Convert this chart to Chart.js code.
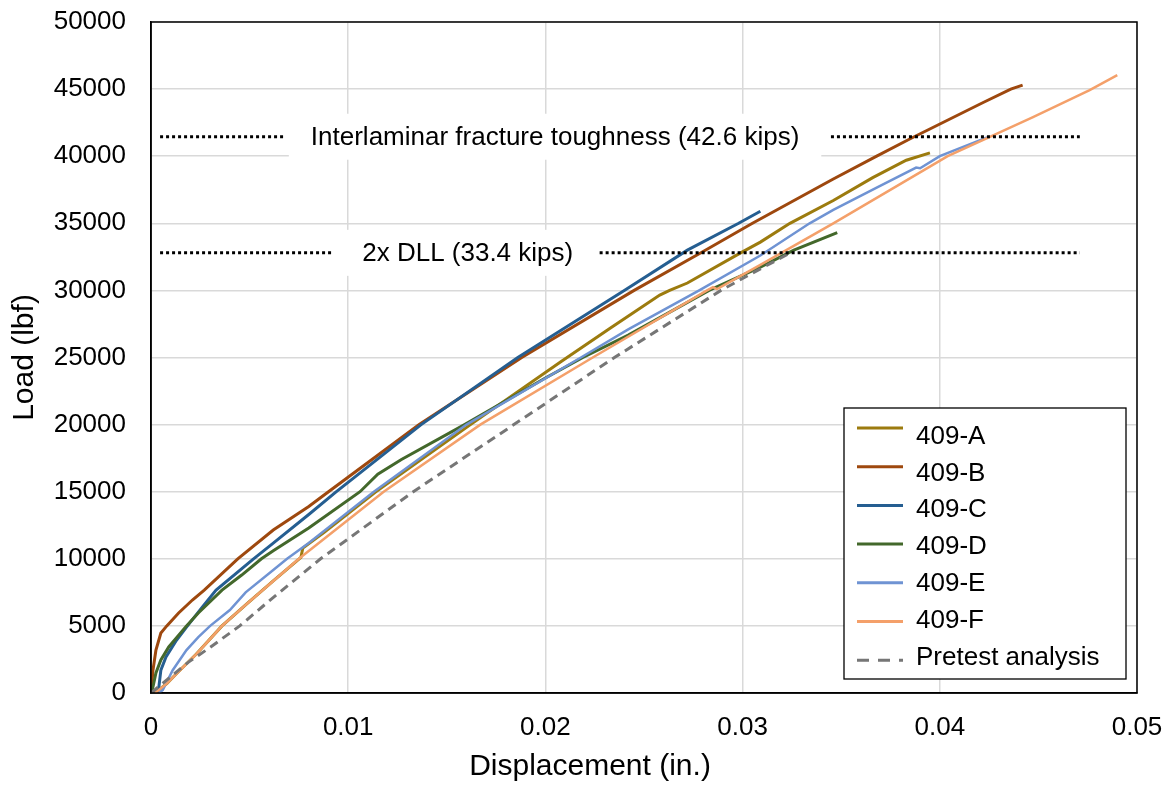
<!DOCTYPE html>
<html lang="en">
<head>
    <meta charset="UTF-8">
    <title>Load vs Displacement</title>
    <script src="https://cdn.jsdelivr.net/npm/chart.js"></script>
    <style>
        body { margin: 0; background: #fff; }
        canvas { display: block; }
    </style>
</head>
<body>
    <canvas id="loadChart" width="1168" height="785"></canvas>
    <script>
        // Test curves (displacement in., load lbf)
        const xA = [0.0002, 0.0008, 0.0014, 0.0023, 0.0036, 0.0049, 0.0062, 0.0076, 0.0077, 0.0088, 0.0114, 0.0162, 0.0208, 0.0233, 0.0258, 0.0263, 0.0272, 0.0299, 0.0309, 0.0324, 0.0346, 0.0366, 0.0383, 0.0395];
        const yA = [0, 700, 1600, 2900, 5000, 6700, 8350, 10100, 10800, 12000, 15000, 20000, 24700, 27200, 29650, 30000, 30550, 32800, 33600, 35000, 36700, 38400, 39700, 40250];

        const xB = [0, 0.0001, 0.00025, 0.0005, 0.0008, 0.0014, 0.0021, 0.0027, 0.0044, 0.0062, 0.008, 0.009, 0.0136, 0.0188, 0.0245, 0.028, 0.0305, 0.0346, 0.0368, 0.0385, 0.0422, 0.0436, 0.0442];
        const yB = [0, 1700, 3200, 4470, 5000, 5960, 6930, 7670, 10000, 12140, 13900, 15000, 20000, 25000, 30000, 32900, 35000, 38300, 40000, 41300, 44000, 45000, 45300];

        const xC = [0.0003, 0.0004, 0.0005, 0.00076, 0.0013, 0.00185, 0.0026, 0.0033, 0.0052, 0.0062, 0.008, 0.0094, 0.0137, 0.0186, 0.024, 0.0272, 0.0298, 0.0309];
        const yC = [0, 450, 1700, 2680, 3950, 5000, 6400, 7670, 10000, 11170, 13300, 15000, 20000, 25000, 30000, 33000, 35000, 35900];

        const xD = [0, 0.0001, 0.00025, 0.0005, 0.0009, 0.0018, 0.0024, 0.0036, 0.0046, 0.0056, 0.0062, 0.008, 0.0106, 0.0115, 0.0127, 0.0159, 0.02, 0.0219, 0.0242, 0.0283, 0.0309, 0.0326, 0.0348];
        const yD = [0, 450, 1490, 2460, 3430, 5000, 5960, 7670, 8790, 10000, 10600, 12300, 15000, 16300, 17400, 20000, 23470, 25000, 26670, 30000, 31740, 33000, 34300];

        const xE = [0.0004, 0.0006, 0.0011, 0.0018, 0.0024, 0.003, 0.004, 0.0048, 0.0062, 0.0069, 0.008, 0.0113, 0.016, 0.0218, 0.0242, 0.0278, 0.0309, 0.0334, 0.0346, 0.0368, 0.0388, 0.039, 0.04, 0.0424];
        const yE = [0, 220, 1700, 3200, 4170, 5000, 6180, 7500, 9160, 10000, 11170, 15000, 20000, 25000, 27100, 30000, 32600, 35000, 36000, 37650, 39150, 39100, 40000, 41400];

        const xF = [0.0002, 0.0008, 0.0014, 0.0023, 0.0036, 0.0049, 0.0062, 0.0075, 0.0118, 0.0167, 0.0224, 0.0282, 0.0285, 0.0287, 0.0309, 0.0346, 0.039, 0.0404, 0.0424, 0.0447, 0.0476, 0.049];
        const yF = [0, 700, 1600, 2900, 5000, 6700, 8350, 10000, 15000, 20000, 25000, 30000, 30250, 30100, 31900, 35000, 38800, 40000, 41350, 42900, 44920, 46040];

        const xPre = [0, 0.0019, 0.0029, 0.0045, 0.0061, 0.0086, 0.0133, 0.0184, 0.0235, 0.0289, 0.0305, 0.0323];
        const yPre = [0, 2300, 3300, 5000, 7000, 10000, 15000, 20000, 25000, 30000, 31290, 32700];

        const seriesNames = ['409-A', '409-B', '409-C', '409-D', '409-E', '409-F', 'Pretest analysis'];
        const seriesColors = ['#9c7b0e', '#9e480e', '#255e91', '#43682b', '#6f93d3', '#f4a06a', '#767676'];

        // Reference load levels drawn as dotted lines with a label in the gap
        const refLoads = [41450, 32800];
        const refLabels = ['Interlaminar fracture toughness (42.6 kips)', '2x DLL (33.4 kips)'];
        const refLabelX = [0.02049, 0.01606];
        const refLeft = [[0.00046, 0.0068], [0.00046, 0.0092]];
        const refRight = [[0.03448, 0.0471], [0.02275, 0.0471]];

        // Axis ticks
        const xTicks = [0, 0.01, 0.02, 0.03, 0.04, 0.05];
        const yTicks = [0, 5000, 10000, 15000, 20000, 25000, 30000, 35000, 40000, 45000, 50000];

        const FONT = '"Liberation Sans", Arial, sans-serif';
        const toPoints = (xs, ys) => xs.map((x, i) => ({ x: x, y: ys[i] }));

        const curves = [[xA, yA], [xB, yB], [xC, yC], [xD, yD], [xE, yE], [xF, yF], [xPre, yPre]];
        const datasets = curves.map((c, i) => ({
            label: seriesNames[i],
            data: toPoints(c[0], c[1]),
            borderColor: seriesColors[i],
            borderWidth: i >= 4 && i <= 5 ? 2.5 : 3,
            borderDash: i === 6 ? [9, 6] : [],
            showLine: true,
            pointRadius: 0,
            tension: 0,
            order: 20 - i,
            inLegend: true
        }));

        refLoads.forEach((load, i) => {
            [refLeft[i], refRight[i]].forEach(seg => {
                datasets.push({
                    label: 'ref',
                    data: toPoints(seg, [load, load]),
                    borderColor: '#000',
                    borderWidth: 3,
                    borderDash: [3, 3],
                    showLine: true,
                    pointRadius: 0,
                    order: 1,
                    inLegend: false
                });
            });
        });

        // Extra drawing: label boxes, plot frame, legend, axis titles
        const extras = {
            id: 'extras',
            beforeDatasetsDraw(chart) {
                const { ctx, scales: { x, y } } = chart;
                ctx.save();
                ctx.font = '26px ' + FONT;
                ctx.fillStyle = '#fff';
                refLabels.forEach((t, i) => {
                    const w = ctx.measureText(t).width;
                    const cx = x.getPixelForValue(refLabelX[i]);
                    const cy = y.getPixelForValue(refLoads[i]);
                    ctx.fillRect(cx - w / 2 - 22, cy - 23, w + 44, 46);
                });
                ctx.restore();
            },
            afterDatasetsDraw(chart) {
                const { ctx, chartArea: area, scales: { x, y } } = chart;
                ctx.save();

                // reference labels
                ctx.font = '26px ' + FONT;
                ctx.fillStyle = '#000';
                ctx.textAlign = 'center';
                ctx.textBaseline = 'middle';
                refLabels.forEach((t, i) => {
                    ctx.fillText(t, x.getPixelForValue(refLabelX[i]), y.getPixelForValue(refLoads[i]) + 1);
                });

                // plot frame
                ctx.strokeStyle = '#000';
                ctx.lineWidth = 1.5;
                ctx.strokeRect(area.left, area.top, area.right - area.left, area.bottom - area.top);

                // legend
                const lw = 282, lh = 271;
                const lx = area.right - 11 - lw;
                const ly = area.bottom - 14 - lh;
                ctx.fillStyle = '#fff';
                ctx.fillRect(lx, ly, lw, lh);
                ctx.lineWidth = 1.3;
                ctx.strokeRect(lx, ly, lw, lh);
                const items = chart.data.datasets.filter(d => d.inLegend);
                ctx.textAlign = 'left';
                items.forEach((d, i) => {
                    const lineY = ly + 20 + i * 38.7;
                    const textY = ly + 28.5 + i * 36.9;
                    ctx.beginPath();
                    ctx.strokeStyle = d.borderColor;
                    ctx.lineWidth = 3;
                    ctx.setLineDash(d.borderDash.length ? [12, 9] : []);
                    ctx.moveTo(lx + 13, lineY);
                    ctx.lineTo(lx + 59, lineY);
                    ctx.stroke();
                    ctx.setLineDash([]);
                    ctx.fillStyle = '#000';
                    ctx.fillText(d.label, lx + 72, textY);
                });

                // axis titles
                ctx.font = '30px ' + FONT;
                ctx.textAlign = 'center';
                ctx.fillText('Displacement (in.)', chart.width / 2 + 6, 767);
                ctx.translate(25, (area.top + area.bottom) / 2);
                ctx.rotate(-Math.PI / 2);
                ctx.fillText('Load (lbf)', 0, 0);
                ctx.restore();
            }
        };

        const ctxLoad = document.getElementById('loadChart').getContext('2d');
        const loadChart = new Chart(ctxLoad, {
            type: 'scatter',
            data: { datasets: datasets },
            options: {
                responsive: false,
                animation: false,
                layout: { padding: { top: 22, right: 31, left: 0, bottom: 0 } },
                plugins: {
                    legend: { display: false },
                    tooltip: { enabled: false }
                },
                scales: {
                    x: {
                        type: 'linear',
                        min: xTicks[0],
                        max: xTicks[xTicks.length - 1],
                        afterBuildTicks: s => { s.ticks = xTicks.map(v => ({ value: v })); },
                        afterFit: s => { s.height = 92; s.paddingLeft = 0; s.paddingRight = 0; },
                        ticks: {
                            color: '#000',
                            font: { family: FONT, size: 26 },
                            padding: 19,
                            maxRotation: 0,
                            callback: v => (v === 0 ? '0' : v.toFixed(2))
                        },
                        grid: { color: '#d9d9d9', lineWidth: 1.5, drawTicks: false },
                        border: { color: '#000', width: 1.5 }
                    },
                    y: {
                        type: 'linear',
                        min: yTicks[0],
                        max: yTicks[yTicks.length - 1],
                        afterBuildTicks: s => { s.ticks = yTicks.map(v => ({ value: v })); },
                        afterFit: s => { s.width = 151; s.paddingTop = 0; s.paddingBottom = 0; },
                        ticks: {
                            color: '#000',
                            font: { family: FONT, size: 26 },
                            padding: 25,
                            callback: v => String(v)
                        },
                        grid: { color: '#d9d9d9', lineWidth: 1.5, drawTicks: false },
                        border: { color: '#000', width: 1.5 }
                    }
                }
            },
            plugins: [extras]
        });
    </script>
</body>
</html>
